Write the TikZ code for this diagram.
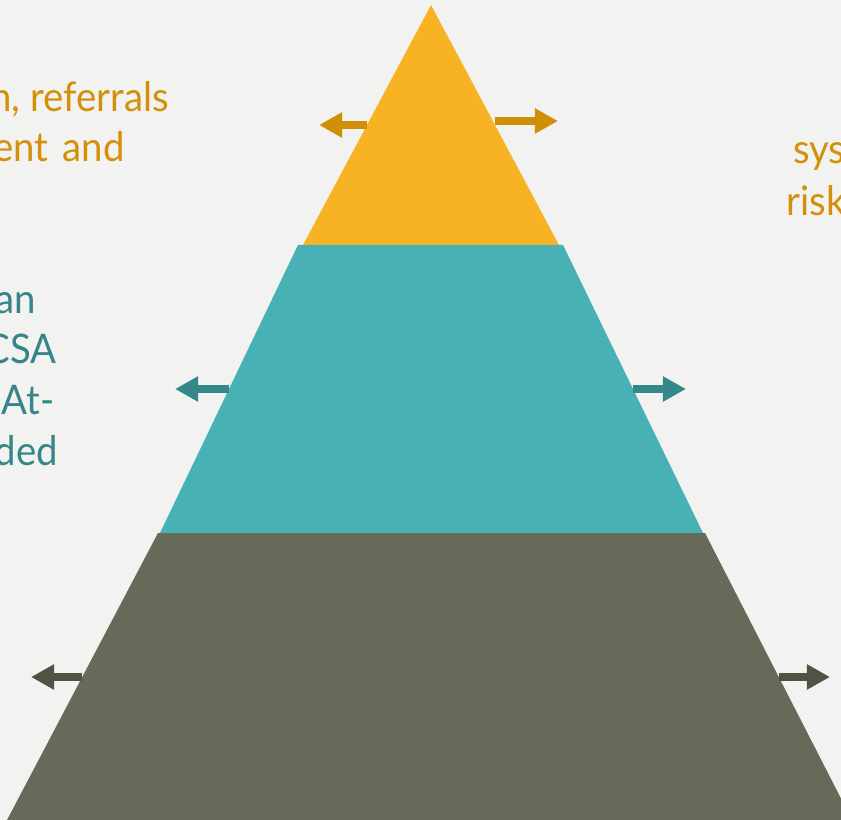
\documentclass[tikz,border=0pt]{standalone}
\usepackage{fontspec}
\setmainfont{Lato}[FakeStretch=0.94]
\usetikzlibrary{arrows.meta}
\definecolor{bgcol}{HTML}{F2F2F0}
\definecolor{topcol}{HTML}{F7B324}
\definecolor{topdark}{HTML}{D18E07}
\definecolor{midcol}{HTML}{47B1B5}
\definecolor{middark}{HTML}{35888A}
\definecolor{botcol}{HTML}{666A59}
\definecolor{botdark}{HTML}{4E5343}
\definecolor{ytext}{HTML}{D4900A}
\definecolor{ttext}{HTML}{358589}
\begin{document}
\begin{tikzpicture}[x=0.025cm, y=-0.025cm,
		every edge/.style = {draw, line width=2mm,
			-{Triangle[width=6mm,length=5.8mm]}},
		lbl/.style = {inner sep=0pt,
			font=\fontsize{29}{36}\selectfont}
                    ]
		\clip (0,0) rectangle (841,820);
		\fill[bgcol] (0,0) rectangle (841,820);

		% layers
		\fill[topcol] (431,5) -- (559,245) -- (303,245) -- cycle;
		\fill[midcol] (298,245) -- (563,245) -- (703,533) -- (160,533) -- cycle;
		\fill[botcol] (158,533) -- (705,533) -- (852,820) -- (7,820) -- cycle;

		\coordinate(TLs) at (367,125);	\coordinate(TLe) at (319,125);
		\coordinate(TRs) at (495,121);	\coordinate(TRe) at (558,121);
		\coordinate(MLs) at (229,389);	\coordinate(MLe) at (175,389);
		\coordinate(MRs) at (633,389);	\coordinate(MRe) at (686,389);
		\coordinate(BLs) at (82,677);	\coordinate(BLe) at (31,677);
		\coordinate(BRs) at (779,677);	\coordinate(BRe) at (830,677);

		\path   (TLs) edge [color=topdark] (TLe)
        		(TRs) edge [color=topdark] (TRe)
        		(MLs) edge [color=middark] (MLe)
        		(MRs) edge [color=middark] (MRe)
        		(BLs) edge [color=botdark] (BLe)
        		(BRs) edge [color=botdark] (BRe);

		% texts
		\node(YL1) [lbl, text=ytext, anchor=base east] at (169,112) {n, referrals};
		\node(YL2) [lbl, text=ytext, anchor=base east] at (125,162) {ent\hspace{0.35em}and};
		\node(YR1) [lbl, text=ytext, anchor=base west] at (793,164) {sys};
		\node(YR2) [lbl, text=ytext, anchor=base west] at (786,216) {risk};
		\node(TL1) [lbl, text=ttext, anchor=base east] at (36,313) {an};
		\node(TL2) [lbl, text=ttext, anchor=base east] at (57,363) {CSA};
		\node(TL3) [lbl, text=ttext, anchor=base east] at (55,414) {At-};
		\node(TL4) [lbl, text=ttext, anchor=base east] at (58,465) {ded};
	\end{tikzpicture}
\end{document}
